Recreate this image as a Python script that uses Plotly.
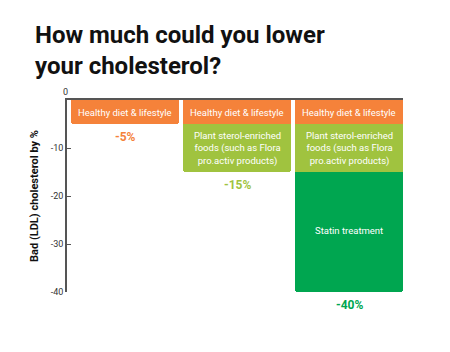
import plotly.graph_objects as go

x_pos = [0, 1, 2]
diet = [-5, -5, -5]
sterol = [None, -10, -10]
statin = [None, None, -25]
totals = [-5, -15, -40]
total_labels = ["-5%", "-15%", "-40%"]
seg_labels = ["Healthy diet & lifestyle",
              "Plant sterol-enriched<br>foods (such as Flora<br>pro.activ products)",
              "Statin treatment"]
tick_vals = [-40, -30, -20, -10]
tick_text = ["-40", "-30", "-20", "-10"]

ORANGE = "#F5823A"
LIME = "#A0C33F"
GREEN = "#00A650"
FONT = "Roboto"

fig = go.Figure()
for vals, col in [(diet, ORANGE), (sterol, LIME), (statin, GREEN)]:
    fig.add_trace(go.Bar(x=x_pos, y=vals, marker=dict(color=col, line=dict(width=0)),
                         width=0.964, hoverinfo="skip"))

ann = []
for i in x_pos:
    base = 0
    for k, vals in enumerate([diet, sterol, statin]):
        v = vals[i]
        if v is None:
            continue
        ann.append(dict(x=i, y=base + v / 2, xref="x", yref="y", text=seg_labels[k],
                        showarrow=False, font=dict(family=FONT, size=9.5, color="white"),
                        align="center", yshift=2 if k == 2 else 0))
        base += v
label_cols = [ORANGE, LIME, GREEN]
for i in x_pos:
    ann.append(dict(x=i, y=totals[i], xref="x", yref="y", text="<b>" + total_labels[i] + "</b>",
                    showarrow=False, yanchor="top", yshift=-4,
                    font=dict(family=FONT, size=12, color=label_cols[i])))
ann.append(dict(x=0, y=0, xref="paper", yref="y", text="0", showarrow=False,
                yanchor="bottom", xanchor="center", xshift=-2, yshift=1,
                font=dict(family=FONT, size=9, color="#333")))

fig.update_layout(
    width=450, height=352,
    margin=dict(l=67, r=47, t=100, b=60),
    paper_bgcolor="white", plot_bgcolor="white",
    barmode="relative", bargap=0, barcornerradius=3,
    showlegend=False,
    title=dict(text="<b>How much could you lower<br>your cholesterol?</b>",
               x=35 / 450, xref="container", xanchor="left",
               y=0.878, yref="container", yanchor="top",
               font=dict(family=FONT, size=24, color="#111")),
    annotations=ann,
    font=dict(family=FONT),
)

fig.update_xaxes(range=[-0.518, 2.482], side="top", showline=True, linecolor="#555",
                 linewidth=1.5, showticklabels=False, ticks="", showgrid=False, zeroline=False)
fig.update_yaxes(range=[-40, 0], showline=True, linecolor="#555", linewidth=1.5,
                 tickvals=tick_vals, ticktext=tick_text, ticks="inside", ticklen=4,
                 tickcolor="#555", tickwidth=1.2, showgrid=False, zeroline=False,
                 tickfont=dict(family=FONT, size=9, color="#333"),
                 title=dict(text="<b>Bad (LDL) cholesterol by %</b>", standoff=10,
                            font=dict(family=FONT, size=11, color="#111")))

fig.write_html("out.html")
